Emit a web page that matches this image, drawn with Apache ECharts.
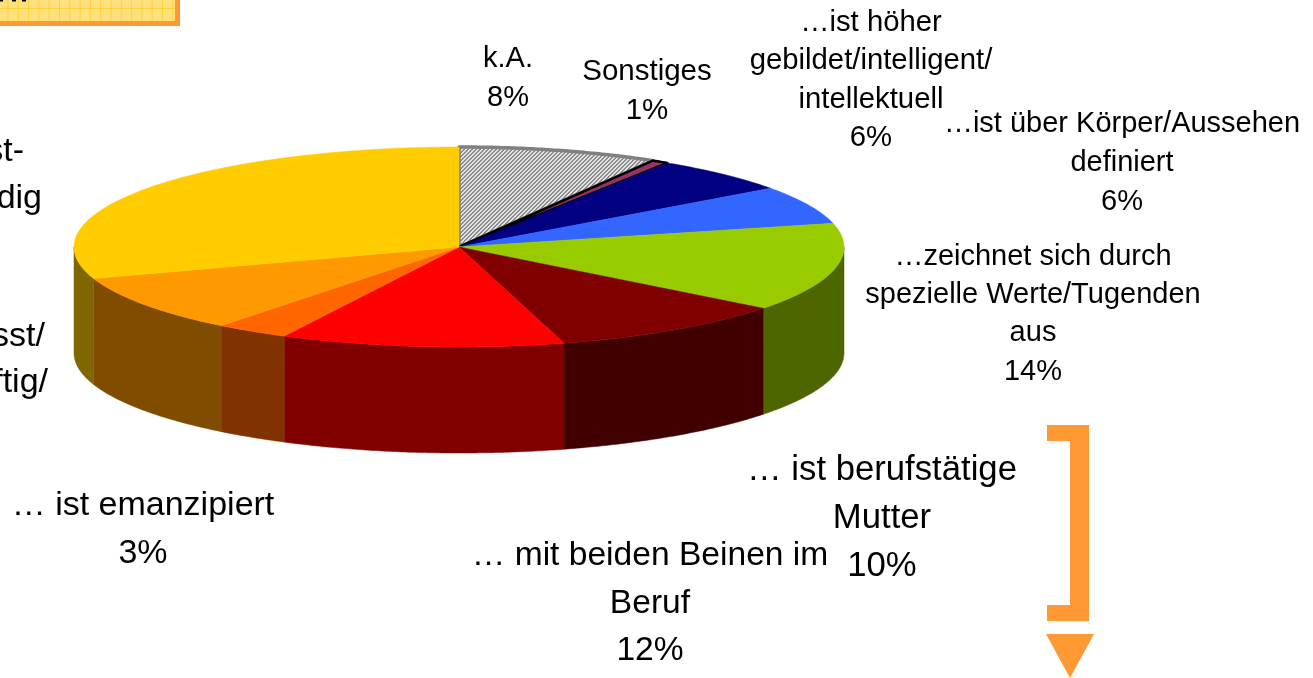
<!DOCTYPE html>
<html>
<head>
<meta charset="utf-8">
<style>html,body{margin:0;padding:0;background:#fff}#c{width:1313px;height:678px}</style>
<script src="https://cdn.jsdelivr.net/npm/echarts@6/dist/echarts.min.js"></script>
</head>
<body>
<div id="c"></div>
<script>
// Slice shares, clockwise from 12 o'clock
const sliceNames = ['k.A.','Sonstiges','ist höher gebildet','über Körper','Werte/Tugenden','berufstätige Mutter','mit beiden Beinen im Beruf','emanzipiert','bewusst/kräftig','selbstständig'];
const sliceValues = [8.4, 0.7, 5.9, 6.2, 14.3, 10.1, 11.9, 3.1, 9.3, 30.1];
const topColors  = ['hatch','#993366','#000080','#3366ff','#99cc00','#800000','#ff0000','#ff6600','#ff9900','#ffcc00'];
const sideColors = ['#808080','#4d1a33','#000040','#1a3380','#4d6600','#400000','#800000','#803300','#804d00','#806600'];

// Label texts (the two leftmost labels are cut off by the picture's edge)
const labelTexts = [
  ['k.A.','8%'],
  ['Sonstiges','1%'],
  ['…ist höher','gebildet/intelligent/','intellektuell','6%'],
  ['…ist über Körper/Aussehen','definiert','6%'],
  ['…zeichnet sich durch','spezielle Werte/Tugenden','aus','14%'],
  ['… ist berufstätige','Mutter','10%'],
  ['… mit beiden Beinen im','Beruf','12%'],
  ['… ist emanzipiert','3%'],
  ['st-'],
  ['dig'],
  ['sst/'],
  ['ftig/']
];
// Layout of the labels: x, first-line y, line step, size, alignment
const labelLayout = [
  [508, 59, 38.5, 29, 'center'],
  [647, 72, 38.5, 29.5, 'center'],
  [871, 23, 38.4, 29.3, 'center'],
  [1122, 124, 39, 29, 'center'],
  [1033, 257, 38.2, 29, 'center'],
  [882, 470, 48, 34.7, 'center'],
  [650, 556, 47.5, 33.6, 'center'],
  [143, 506, 48, 34, 'center'],
  [24, 152, 47, 34, 'right'],
  [42, 199, 47, 34, 'right'],
  [45, 337, 46, 34, 'right'],
  [48, 383, 46, 34, 'right']
];

const CX = 459, CY = 247, RX = 385, RY = 100, DEPTH = 106;

function hatchPattern() {
  const s = 4, cv = document.createElement('canvas');
  cv.width = cv.height = s;
  const g = cv.getContext('2d');
  for (let x=0;x<s;x++) for (let y=0;y<s;y++){
    g.fillStyle = ((x+y)%4<2) ? '#8c8c8c' : '#e4e4e4';
    g.fillRect(x,y,1,1);
  }
  return {image: cv, repeat: 'repeat'};
}
const hatch = hatchPattern();

const total = sliceValues.reduce((a,b)=>a+b,0);
let acc = 0;
const sliceData = sliceValues.map((v,i)=>{ const s=acc; acc+=v; return [s/total*360,acc/total*360,i]; });

function pt(deg, dy){
  const r = deg*Math.PI/180;
  return [CX+RX*Math.sin(r), CY-RY*Math.cos(r)+(dy||0)];
}
function renderSlice(params, api){
  const a0=api.value(0), a1=api.value(1), i=api.value(2);
  const children=[];
  const w0=Math.max(a0,90), w1=Math.min(a1,270);
  if (w1>w0){
    const pts=[];
    const n=Math.ceil((w1-w0)/0.5);
    for(let k=0;k<=n;k++) pts.push(pt(w0+(w1-w0)*k/n));
    for(let k=n;k>=0;k--) pts.push(pt(w0+(w1-w0)*k/n,DEPTH));
    children.push({type:'polygon',shape:{points:pts},style:{fill:sideColors[i],stroke:sideColors[i],lineWidth:0.5}});
  }
  const top=[[CX,CY]];
  const m=Math.ceil((a1-a0)/0.5);
  for(let k=0;k<=m;k++) top.push(pt(a0+(a1-a0)*k/m));
  let style={fill:topColors[i],stroke:topColors[i],lineWidth:0.5};
  if (topColors[i]==='hatch') style={fill:hatch,stroke:'#808080',lineWidth:3.5,lineJoin:'round'};
  if (sliceNames[i]==='Sonstiges') style={fill:topColors[i],stroke:'#000000',lineWidth:2.5,lineJoin:'round'};
  children.push({type:'polygon',shape:{points:top},style});
  return {type:'group',children};
}

const graphics=[];
labelTexts.forEach((lines,i)=>{
  const [x,y,step,size,align]=labelLayout[i];
  lines.forEach((t,j)=>{
    graphics.push({type:'text',silent:true,x:x,y:y+j*step,
      style:{text:t,fill:'#000',font:size+'px "Liberation Sans", Arial, sans-serif',textAlign:align,textVerticalAlign:'middle'}});
  });
});

// Cut-off title box in the top-left corner
graphics.push({type:'rect',silent:true,shape:{x:-10,y:-10,width:190,height:36},style:{fill:'#ff9933'}});
graphics.push({type:'rect',silent:true,shape:{x:-10,y:-10,width:185,height:31},style:{fill:'#ffe07f'}});
for(let gx=7.5;gx<175;gx+=10.3){
  graphics.push({type:'rect',silent:true,shape:{x:gx,y:0,width:1,height:21},style:{fill:'#ffd23c'}});
}
graphics.push({type:'rect',silent:true,shape:{x:0,y:8,width:175,height:1},style:{fill:'#ffd23c'}});
[[0,3],[12,4],[22,4]].forEach(d=>graphics.push({type:'rect',silent:true,shape:{x:d[0],y:0,width:d[1],height:1.5},style:{fill:'#000'}}));

// Bracket and arrow on the right
graphics.push({type:'polygon',silent:true,shape:{points:[[1047,425],[1089,425],[1089,621],[1047,621],[1047,605],[1070,605],[1070,441],[1047,441]]},style:{fill:'#ff9933'}});
graphics.push({type:'polygon',silent:true,shape:{points:[[1046,634],[1094,634],[1070,678]]},style:{fill:'#ff9933'}});

const chart=echarts.init(document.getElementById('c'),null,{renderer:'canvas'});
chart.setOption({
  animation:false,
  backgroundColor:'#ffffff',
  series:[{type:'custom',coordinateSystem:'none',silent:true,clip:false,renderItem:renderSlice,data:sliceData}],
  graphic:graphics
});
</script>
</body>
</html>
